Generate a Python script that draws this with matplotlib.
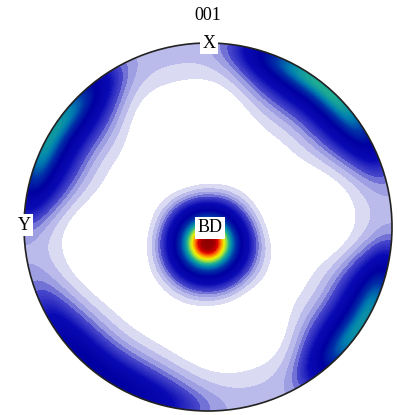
import numpy as np
import matplotlib
matplotlib.use('Agg')
import matplotlib.pyplot as plt
from matplotlib.colors import LinearSegmentedColormap, Normalize
from matplotlib.patches import Circle

# 001 pole figure, BD at the centre, X up, Y left
# central peak (degrees / mrd)
center_tilt = 10
center_azimuth = 180
center_height = 10.0
center_width = 14.5

# weak ring all round the rim
ring_tilt = 90
ring_height = 0.8
ring_width = 11

# four lobes along the rim (azimuth counted from X towards Y)
rim_azimuth = [59, 144, 238, 320]
rim_tilt = [89, 89, 89, 89]
rim_height = [5.7, 3.0, 5.6, 6.0]
rim_width_tilt = [7, 7, 7, 7]
rim_width_azimuth = [18.5, 23, 17, 20.5]

title = '001'
labels = ['X', 'Y', 'BD']

plt.rcParams['font.family'] = ['Liberation Serif', 'DejaVu Serif']


def unit_vec(tilt, azim):
    """direction vector from tilt / azimuth in degrees"""
    t = np.radians(tilt)
    a = np.radians(azim)
    return np.sin(t) * np.cos(a), np.sin(t) * np.sin(a), np.cos(t)


def density(x, y):
    """pole density on the stereographic disk"""
    r = np.hypot(x, y)
    tilt = 2 * np.degrees(np.arctan(r))
    azim = np.degrees(np.arctan2(-x, y))

    vx, vy, vz = unit_vec(tilt, azim)
    cx, cy, cz = unit_vec(center_tilt, center_azimuth)
    dist = np.degrees(np.arccos(np.clip(vx * cx + vy * cy + vz * cz, -1, 1)))
    f = center_height * np.exp(-0.5 * (dist / center_width) ** 2)
    f = f + ring_height * np.exp(-0.5 * ((tilt - ring_tilt) / ring_width) ** 2)

    # lobes: heavy tail across the rim, flat-ish along it
    for a, t, h, wt, wa in zip(rim_azimuth, rim_tilt, rim_height,
                               rim_width_tilt, rim_width_azimuth):
        da = (azim - a + 180) % 360 - 180
        across = 1 / (1 + ((tilt - t) / wt) ** 2)
        along = np.exp(-0.5 * np.abs(da / wa) ** 3)
        f = f + h * across * along
    return f


def make_cmap(vmax):
    anchors = [(0.0, '#ffffff'), (0.45, '#e4e4f6'), (0.7, '#cacaef'),
               (0.95, '#acace6'), (1.2, '#8c8cdc'), (1.45, '#4848cc'),
               (2.4, '#0a0ab4'), (3.9, '#0000a0'), (5.15, '#0030a8'),
               (6.15, '#0080b0'), (6.9, '#20b090'), (7.6, '#a0e040'),
               (8.1, '#f0f000'), (8.76, '#ff8000'), (9.28, '#e00000'),
               (9.75, '#a00000'), (vmax, '#900000')]
    return LinearSegmentedColormap.from_list(
        'whitejet', [(v / vmax, c) for v, c in anchors])


def main():
    fig = plt.figure(figsize=(3.97, 4.15), dpi=100)
    ax = fig.add_axes([24 / 397, 4 / 415, 368 / 397, 368 / 415])
    ax.set_xlim(-1, 1)
    ax.set_ylim(-1, 1)
    ax.axis('off')

    g = np.linspace(-1.02, 1.02, 700)
    xx, yy = np.meshgrid(g, g)
    zz = density(xx, yy)

    vmax = 10.0
    # coarse light bands, then nearly smooth shading
    levels = np.concatenate([[0.45, 0.7, 0.95, 1.2],
                             np.arange(1.45, 10.1, 0.1)])
    cs = ax.contourf(xx, yy, zz, levels=levels, cmap=make_cmap(vmax),
                     norm=Normalize(0, vmax), extend='max')
    clip = Circle((0, 0), 1, transform=ax.transData)
    cs.set_clip_path(clip)

    ax.add_patch(Circle((0, 0), 1, fill=False, ec='#222222', lw=1.2,
                        clip_on=False))

    box = dict(boxstyle='square,pad=0.12', fc='white', ec='none')
    ax.text(0, 1.148, title, ha='center', va='center', fontsize=13,
            clip_on=False)
    ax.text(0.005, 1.0, labels[0], ha='center', va='center', fontsize=13,
            bbox=box, clip_on=False)
    ax.text(-1.0, 0.01, labels[1], ha='center', va='center', fontsize=13,
            bbox=box, clip_on=False)
    ax.text(0.01, -0.005, labels[2], ha='center', va='center', fontsize=13,
            bbox=box, clip_on=False)

    fig.savefig('out.png', dpi=100)


if __name__ == '__main__':
    main()
